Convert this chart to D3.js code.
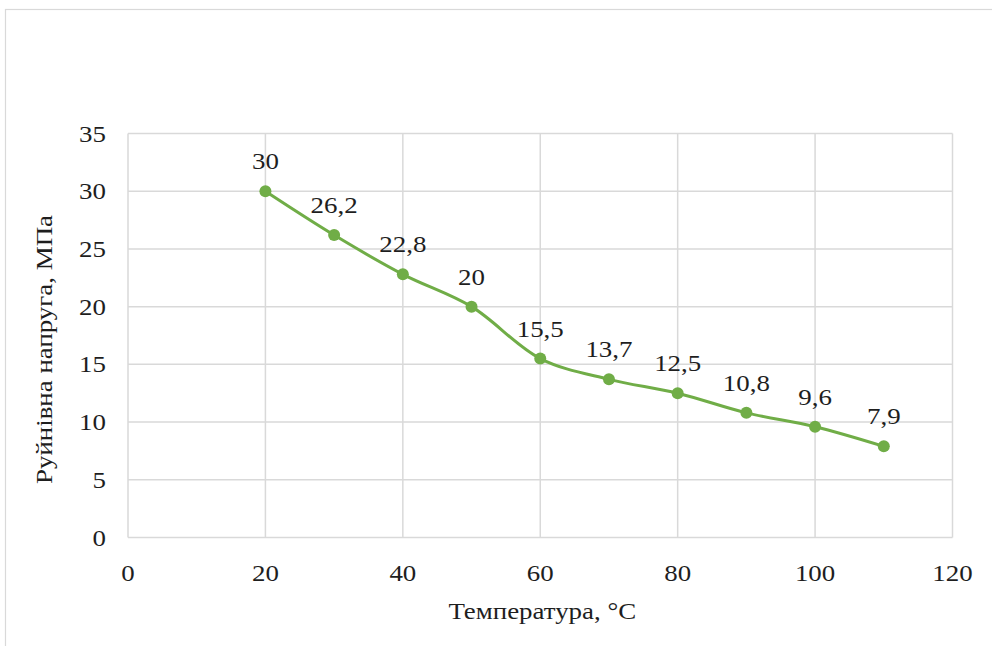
<!DOCTYPE html>
<meta charset="utf-8">
<style>
body { margin: 0; background: #fff; }
text { font-family: "Liberation Serif", "Times New Roman", serif; fill: #1e1e1e; font-size: 23px; }
.grid line { stroke: #d9d9d9; stroke-width: 1.5px; }
</style>
<body>
<script src="https://cdn.jsdelivr.net/npm/d3@7"></script>
<script>
// data
var temps = [20, 30, 40, 50, 60, 70, 80, 90, 100, 110];
var stress = [30, 26.2, 22.8, 20, 15.5, 13.7, 12.5, 10.8, 9.6, 7.9];
var xTicks = [0, 20, 40, 60, 80, 100, 120];
var yTicks = [0, 5, 10, 15, 20, 25, 30, 35];

var width = 992, height = 646;
var stretch = 1.17; // the source picture is a bit wider than tall

var svg = d3.select("body").append("svg")
    .attr("width", width)
    .attr("height", height);

// chart frame
svg.append("rect")
    .attr("x", 5.5).attr("y", 9.5)
    .attr("width", 1000).attr("height", 700)
    .attr("fill", "none")
    .attr("stroke", "#d9d9d9")
    .attr("stroke-width", 1.2);

var x = d3.scaleLinear().domain([0, 120]).range([128, 952.5]);
var y = d3.scaleLinear().domain([0, 35]).range([537.5, 133.5]);

var grid = svg.append("g").attr("class", "grid");
grid.selectAll(".h").data(yTicks).enter().append("line")
    .attr("x1", x(0)).attr("x2", x(120))
    .attr("y1", function(d) { return y(d); })
    .attr("y2", function(d) { return y(d); });
grid.selectAll(".v").data(xTicks).enter().append("line")
    .attr("y1", y(0)).attr("y2", y(35))
    .attr("x1", function(d) { return x(d); })
    .attr("x2", function(d) { return x(d); });

function pos(px, py) {
  return "translate(" + px + "," + py + ") scale(" + stretch + ",1)";
}

// tick labels
svg.selectAll(".ylab").data(yTicks).enter().append("text")
    .attr("transform", function(d) { return pos(106, y(d)); })
    .attr("dy", "0.35em")
    .attr("text-anchor", "end")
    .text(function(d) { return d; });

svg.selectAll(".xlab").data(xTicks).enter().append("text")
    .attr("transform", function(d) { return pos(x(d), 573); })
    .attr("dy", "0.35em")
    .attr("text-anchor", "middle")
    .text(function(d) { return d; });

// axis titles
svg.append("text")
    .attr("transform", pos((x(0) + x(120)) / 2 + 2, 611))
    .attr("dy", "0.35em")
    .attr("text-anchor", "middle")
    .text("Температура, °С");

svg.append("text")
    .attr("transform", "translate(44," + ((y(0) + y(35)) / 2 + 14) + ") rotate(-90) scale(" + stretch + ",1)")
    .attr("dy", "0.35em")
    .attr("text-anchor", "middle")
    .text("Руйнівна напруга, МПа");

var pts = temps.map(function(t, i) { return [t, stress[i]]; });

var line = d3.line()
    .x(function(d) { return x(d[0]); })
    .y(function(d) { return y(d[1]); })
    .curve(d3.curveCatmullRom.alpha(0.5));

svg.append("path")
    .datum(pts)
    .attr("d", line)
    .attr("fill", "none")
    .attr("stroke", "#70ad47")
    .attr("stroke-width", 3);

svg.selectAll(".dot").data(pts).enter().append("circle")
    .attr("cx", function(d) { return x(d[0]); })
    .attr("cy", function(d) { return y(d[1]); })
    .attr("r", 6)
    .attr("fill", "#70ad47");

svg.selectAll(".val").data(pts).enter().append("text")
    .attr("transform", function(d) { return pos(x(d[0]), y(d[1]) - 30); })
    .attr("dy", "0.35em")
    .attr("text-anchor", "middle")
    .text(function(d) { return String(d[1]).replace(".", ","); });
</script>
